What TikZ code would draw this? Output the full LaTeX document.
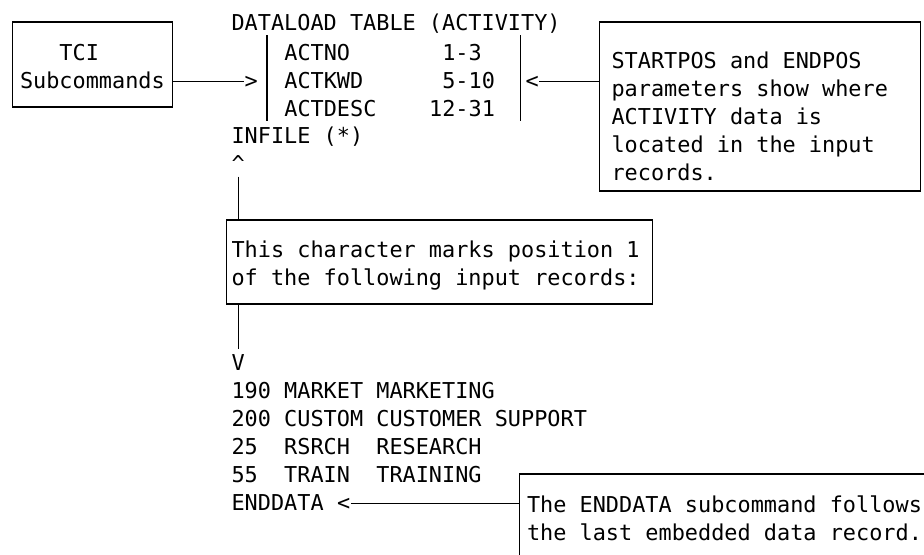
\documentclass[tikz,border=0pt]{standalone}
\usepackage{fontspec}
\setmonofont{DejaVu Sans Mono}
\usetikzlibrary{positioning,calc}
\tikzset{
txt/.style={inner sep=0pt,anchor=base west},
cadre/.style={draw,anchor=base west,inner ysep=0pt},
lien/.style={-}
}

\begin{document}
\begin{tikzpicture}[x=0.75pt,y=-0.75pt,line width=0.8pt,every node/.append style={font=\ttfamily\fontsize{16.4}{21}\selectfont,
  execute at begin node={\spaceskip=0pt\xspaceskip=0pt\relax}}]
\useasboundingbox (0,0) rectangle (924,554);
\clip (0,0) rectangle (924,554);
%%% tci & dataload
\node[cadre,inner xsep=5.6pt,text width=108.9pt,text height=28.5pt,text depth=35.25pt] (tci) at (12,60) {\ \ \ TCI\\Subcommands};
\node[txt] (table) at (231,30) {DATALOAD TABLE (ACTIVITY)};
\node[cadre,draw=none,inner xsep=12.6pt,text width=163.8pt,text height=18pt,text depth=45pt] (fields) at (267,60)
  {ACTNO\ \ \ \ \ \ \ 1-3\\ACTKWD\ \ \ \ \ \ 5-10\\ACTDESC\ \ \ \ 12-31};
\draw (fields.north west) -- (fields.south west);
\draw (fields.north east) -- (fields.south east);
\node[txt] (gt) at (244.2,88) {>};
\node[txt] (lt) at (525,88) {<};
\node[txt] (infile) at (231,143) {INFILE (*)};
%%% startpos & endpos
\node[cadre,inner xsep=9pt,text width=222.75pt,text height=34.5pt,text depth=92.25pt] (info) at (599,68)
  {STARTPOS and ENDPOS\\parameters show where\\ACTIVITY data is\\located in the input\\records.};
\draw[lien] (tci.east |- gt.west) -- (gt.west);
\draw[lien] (lt.east) -- (info.west |- lt.east);
%%% position 1
\node[txt] (up) at (231,171) {\textasciicircum};
\node[cadre,inner xsep=3.75pt,text width=312pt,text height=27.75pt,text depth=35.25pt] (mark) at (226,257)
  {This character marks position 1\\of the following input records:};
\node[txt] (down) at (231,370) {V};
\draw[lien,shorten <=3.75pt] (up.south) -- (up.south |- mark.north);
\draw[lien,shorten >=3.75pt] (down.north |- mark.south) -- (down.north);
%%% records & enddata
\node[txt,text width=267.3pt] (records) at (231,398)
  {190 MARKET MARKETING\\200 CUSTOM CUSTOMER SUPPORT\\25\ \ RSRCH\ \ RESEARCH\\55\ \ TRAIN\ \ TRAINING};
\node[txt] (enddata) at (231,510) {ENDDATA};
\node[txt] (endlt) at (336.6,510) {<};
\node[cadre,inner xsep=5.6pt,text width=300pt,text height=28.5pt,text depth=45pt] (note) at (519,512)
  {The ENDDATA subcommand follows\\the last embedded data record.};
\draw[lien] (endlt.east) -- (note.west |- endlt.east);
\end{tikzpicture}
\end{document}
